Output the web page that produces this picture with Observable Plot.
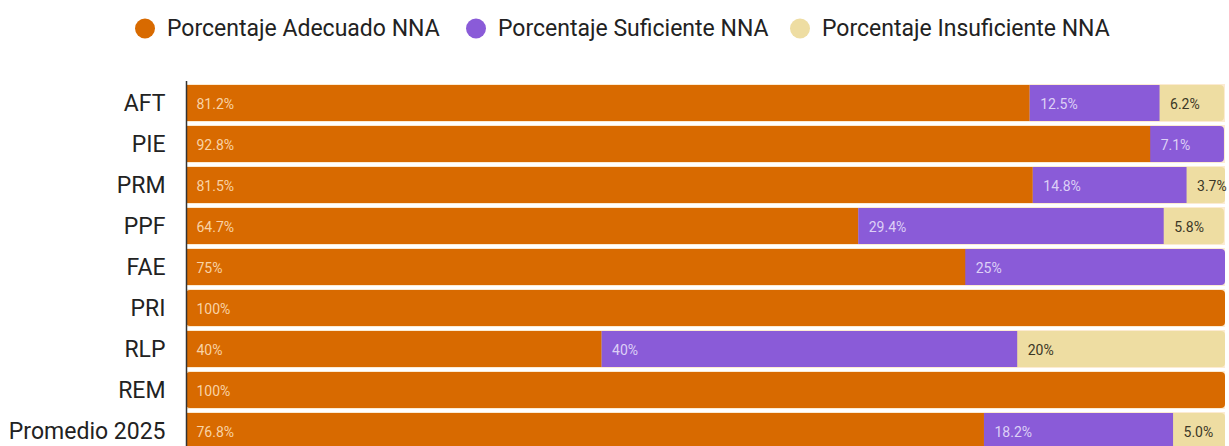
<!DOCTYPE html>
<html>
<head>
<meta charset="utf-8">
<script src="https://cdn.jsdelivr.net/npm/d3@7"></script>
<script src="https://cdn.jsdelivr.net/npm/@observablehq/plot@0.6"></script>
<style>
  html, body { margin: 0; padding: 0; background: #fff; overflow: hidden; width: 1229px; height: 446px; }
  body { font-family: Roboto, "Open Sans", sans-serif; }
  #legend { position: relative; height: 54px; }
  .item { position: absolute; top: 28px; transform: translateY(-50%); display: flex; align-items: center; font-size: 23px; color: #222; white-space: nowrap; }
  .dot { width: 20px; height: 20px; border-radius: 50%; margin-right: 12px; }
  #chart svg { display: block; }
</style>
</head>
<body>
<div id="legend"></div>
<div id="chart"></div>
<script>
const categories = ["AFT", "PIE", "PRM", "PPF", "FAE", "PRI", "RLP", "REM", "Promedio 2025"];
const seriesNames = ["Porcentaje Adecuado NNA", "Porcentaje Suficiente NNA", "Porcentaje Insuficiente NNA"];
const adecuado = [81.2, 92.8, 81.5, 64.7, 75, 100, 40, 100, 76.8];
const suficiente = [12.5, 7.1, 14.8, 29.4, 25, 0, 40, 0, 18.2];
const insuficiente = [6.2, 0, 3.7, 5.8, 0, 0, 20, 0, 5.0];
const adecuadoLabels = ["81.2%", "92.8%", "81.5%", "64.7%", "75%", "100%", "40%", "100%", "76.8%"];
const suficienteLabels = ["12.5%", "7.1%", "14.8%", "29.4%", "25%", "", "40%", "", "18.2%"];
const insuficienteLabels = ["6.2%", "", "3.7%", "5.8%", "", "", "20%", "", "5.0%"];
const colors = ["#d86a00", "#8a5bd8", "#eedda2"];
const labelColors = ["#f9d3a6", "#ddd0f6", "#3b3726"];

const seriesValues = [adecuado, suficiente, insuficiente];
const seriesLabels = [adecuadoLabels, suficienteLabels, insuficienteLabels];

const segments = [];
const rows = [];
categories.forEach((cat, i) => {
  let start = 0;
  let lastIdx = 0;
  seriesValues.forEach((vals, s) => {
    const v = vals[i];
    if (v > 0) {
      segments.push({cat, series: seriesNames[s], s, x1: start, x2: start + v, label: seriesLabels[s][i]});
      lastIdx = s;
      start += v;
    }
  });
  rows.push({cat, total: start, last: lastIdx});
});
const lastSet = new Set(rows.map(r => r.cat + "|" + r.last));
const squareSegs = segments.filter(d => !lastSet.has(d.cat + "|" + d.s));

const legend = document.getElementById("legend");
const legendLeft = [135, 466, 790];
seriesNames.forEach((name, s) => {
  const it = document.createElement("div");
  it.className = "item";
  it.style.left = legendLeft[s] + "px";
  it.innerHTML = `<span class="dot" style="background:${colors[s]}"></span><span>${name}</span>`;
  legend.appendChild(it);
});

const plot = Plot.plot({
  width: 1229,
  height: 400,
  marginLeft: 186,
  marginRight: 4,
  marginTop: 27,
  marginBottom: 1,
  style: {fontFamily: "Roboto, sans-serif", background: "transparent"},
  x: {domain: [0, 100], axis: null},
  y: {domain: categories, paddingInner: 0.12, paddingOuter: 0.06, label: null},
  marks: [
    Plot.barX(rows, {y: "cat", x1: 0, x2: 100, fill: "#fcebd2", insetTop: -1, insetBottom: -1}),
    Plot.barX(rows, {y: "cat", x1: 0, x2: "total", fill: d => colors[d.last], rx: 4}),
    Plot.barX(squareSegs, {y: "cat", x1: "x1", x2: "x2", fill: d => colors[d.s]}),
    Plot.text(segments, {y: "cat", x: "x1", text: "label", textAnchor: "start", dx: 10, dy: 1, fontSize: 14, fill: d => labelColors[d.s]}),
    Plot.axisY({tickSize: 0, tickPadding: 21, fontSize: 23, color: "#222", label: null}),
    Plot.ruleX([0], {stroke: "#333", strokeWidth: 1.5})
  ]
});
document.getElementById("chart").appendChild(plot);
</script>
</body>
</html>
